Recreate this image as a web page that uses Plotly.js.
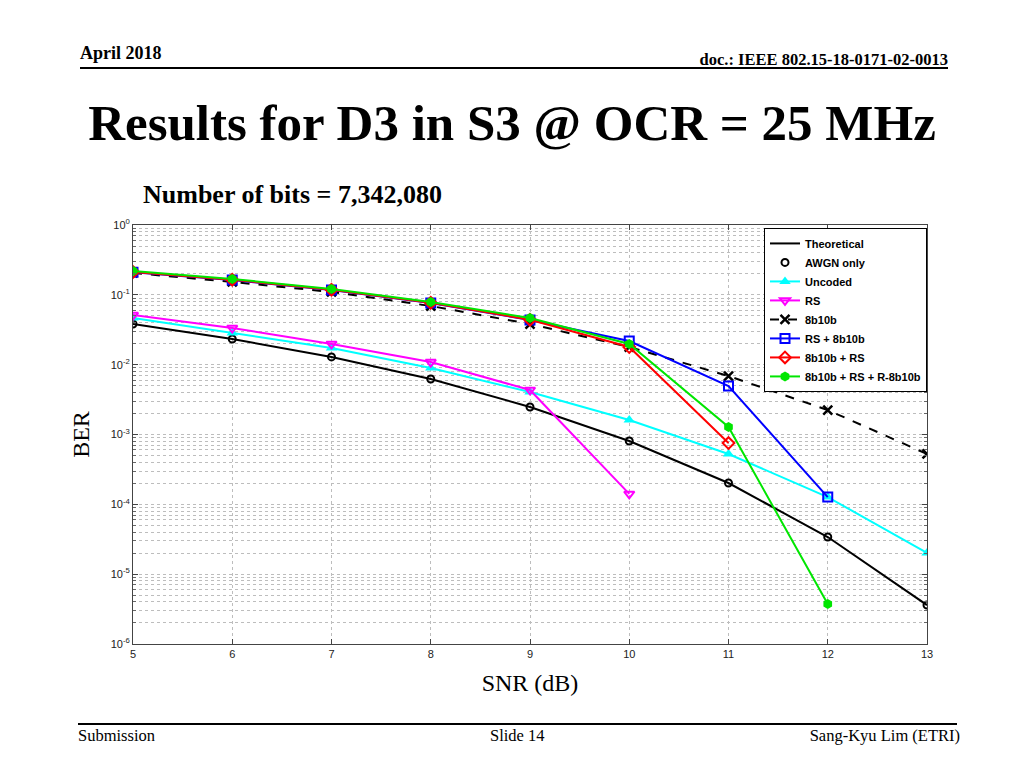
<!DOCTYPE html>
<html>
<head>
<meta charset="utf-8">
<script src="https://cdn.plot.ly/plotly-3.0.1.min.js"></script>
<style>
  html, body { margin: 0; padding: 0; background: #fff; }
  #wrap { position: relative; width: 1024px; height: 768px; overflow: hidden; font-family: "Liberation Serif", "Times New Roman", serif; }
  #chart { position: absolute; left: 0; top: 0; width: 1024px; height: 768px; }
  .t { position: absolute; white-space: nowrap; color: #000; line-height: 1.15; }
  .hr { position: absolute; background: #000; }
</style>
</head>
<body>
<div id="wrap">
  <div id="chart"></div>
  <div class="t" style="left:80px; top:43px; font-size:18px; font-weight:bold;">April 2018</div>
  <div class="t" style="right:76px; top:51px; font-size:16.5px; font-weight:bold;">doc.: IEEE 802.15-18-0171-02-0013</div>
  <div class="hr" style="left:80px; top:67px; width:868px; height:2px;"></div>
  <div class="t" style="left:0; width:1024px; text-align:center; top:94px; font-size:51px; font-weight:bold;">Results for D3 in S3 @ OCR = 25 MHz</div>
  <div class="t" style="left:143px; top:180px; font-size:26px; font-weight:bold;">Number of bits = 7,342,080</div>
  <div class="hr" style="left:78px; top:723px; width:879px; height:2px;"></div>
  <div class="t" style="left:78px; top:727px; font-size:16.5px;">Submission</div>
  <div class="t" style="left:490px; top:727px; font-size:16.5px;">Slide 14</div>
  <div class="t" style="right:64px; top:727px; font-size:16.5px;">Sang-Kyu Lim (ETRI)</div>
</div>
<script>
// ---- data ----
const snr = [5, 6, 7, 8, 9, 10, 11, 12, 13];
const theoretical = [0.0382, 0.0233, 0.0129, 0.00623, 0.00248, 8.07e-4, 2.02e-4, 3.40e-5, 3.61e-6];
const awgnOnly    = [0.0382, 0.0233, 0.0129, 0.00623, 0.00248, 8.07e-4, 2.02e-4, 3.40e-5, 3.61e-6];
const uncoded     = [0.0466, 0.0284, 0.0173, 0.00896, 0.00406, 0.00161, 5.26e-4, 1.27e-4, 2.01e-5];
const rs          = [0.0514, 0.0335, 0.0198, 0.0109, 0.00434, 1.41e-4];
const b8b10b      = [0.2055, 0.153, 0.110, 0.0692, 0.0382, 0.0179, 0.00688, 0.00224, 5.26e-4];
const rs8b10b     = [0.210, 0.163, 0.117, 0.0765, 0.0436, 0.0218, 0.00495, 1.27e-4];
const b8b10bRs    = [0.212, 0.165, 0.118, 0.0770, 0.0440, 0.0179, 7.55e-4];
const b8b10bRsR   = [0.220, 0.169, 0.121, 0.0789, 0.0466, 0.0198, 0.00128, 3.74e-6];
const seriesNames = ["Theoretical", "AWGN only", "Uncoded", "RS", "8b10b", "RS + 8b10b", "8b10b + RS", "8b10b + RS + R-8b10b"];
const yTickVals = [1e-6, 1e-5, 1e-4, 1e-3, 1e-2, 1e-1, 1];
const yTickText = ["10<sup>-6</sup>", "10<sup>-5</sup>", "10<sup>-4</sup>", "10<sup>-3</sup>", "10<sup>-2</sup>", "10<sup>-1</sup>", "10<sup>0</sup>"];
const xTickVals = [5, 6, 7, 8, 9, 10, 11, 12, 13];

function xs(arr) { return snr.slice(0, arr.length); }

const traces = [
  { name: seriesNames[0], x: xs(theoretical), y: theoretical, mode: "lines",
    line: { color: "#000000", width: 2 } },
  { name: seriesNames[1], x: xs(awgnOnly), y: awgnOnly, mode: "markers",
    marker: { symbol: "circle-open", size: 7, color: "#000000", line: { width: 2 } } },
  { name: seriesNames[2], x: xs(uncoded), y: uncoded, mode: "lines+markers",
    line: { color: "#00FFFF", width: 2 },
    marker: { symbol: "triangle-up", size: 10, color: "#00FFFF" } },
  { name: seriesNames[3], x: xs(rs), y: rs, mode: "lines+markers",
    line: { color: "#FF00FF", width: 2 },
    marker: { symbol: "triangle-down-open", size: 9, color: "#FF00FF", line: { width: 2 } } },
  { name: seriesNames[4], x: xs(b8b10b), y: b8b10b, mode: "lines+markers",
    line: { color: "#000000", width: 2, dash: "dash" },
    marker: { symbol: "x-thin-open", size: 9, color: "#000000", line: { width: 2.5, color: "#000000" } } },
  { name: seriesNames[5], x: xs(rs8b10b), y: rs8b10b, mode: "lines+markers",
    line: { color: "#0000FF", width: 2 },
    marker: { symbol: "square-open", size: 9, color: "#0000FF", line: { width: 2 } } },
  { name: seriesNames[6], x: xs(b8b10bRs), y: b8b10bRs, mode: "lines+markers",
    line: { color: "#FF0000", width: 2 },
    marker: { symbol: "diamond-open", size: 9, color: "#FF0000", line: { width: 2 } } },
  { name: seriesNames[7], x: xs(b8b10bRsR), y: b8b10bRsR, mode: "lines+markers",
    line: { color: "#00E600", width: 2 },
    marker: { symbol: "hexagon", size: 10, color: "#00E600" } }
];

const gridCol = "#bdbdbd";
const tickFont = { family: "Liberation Sans, Arial, sans-serif", size: 11, color: "#222" };
const layout = {
  width: 1024, height: 768,
  margin: { l: 133, r: 97, t: 225, b: 124, pad: 0 },
  paper_bgcolor: "rgba(0,0,0,0)",
  plot_bgcolor: "#ffffff",
  showlegend: true,
  font: { family: "Liberation Sans, Arial, sans-serif", size: 11, color: "#222" },
  xaxis: {
    type: "linear", range: [5, 13],
    tickvals: xTickVals, ticks: "inside", ticklen: 5, tickcolor: "#444",
    showline: true, linecolor: "#444", linewidth: 1, mirror: "allticks",
    showgrid: true, gridcolor: gridCol, griddash: "dot", gridwidth: 1,
    zeroline: false,
    tickfont: tickFont,
    title: { text: "SNR (dB)", standoff: 14, font: { family: "Liberation Serif, Times New Roman, serif", size: 24, color: "#000" } }
  },
  yaxis: {
    type: "log", range: [-6, 0],
    tickvals: yTickVals, ticktext: yTickText,
    ticks: "inside", ticklen: 5, tickcolor: "#444",
    showline: true, linecolor: "#444", linewidth: 1, mirror: "allticks",
    showgrid: true, gridcolor: gridCol, griddash: "dot", gridwidth: 1,
    zeroline: false,
    minor: { dtick: "D1", ticks: "inside", ticklen: 3, tickcolor: "#666", showgrid: true, gridcolor: gridCol, griddash: "dot", gridwidth: 1 },
    tickfont: tickFont,
    title: { text: "BER", standoff: 14, font: { family: "Liberation Serif, Times New Roman, serif", size: 24, color: "#000" } }
  },
  legend: {
    x: 1, xanchor: "right", y: 0.993, yanchor: "top",
    bgcolor: "#ffffff", bordercolor: "#000", borderwidth: 1,
    font: { family: "Liberation Sans, Arial, sans-serif", size: 11, color: "#000", weight: "bold" },
    tracegroupgap: 0, itemwidth: 30
  }
};

Plotly.newPlot("chart", traces, layout, { staticPlot: true, displayModeBar: false });
</script>
</body>
</html>
